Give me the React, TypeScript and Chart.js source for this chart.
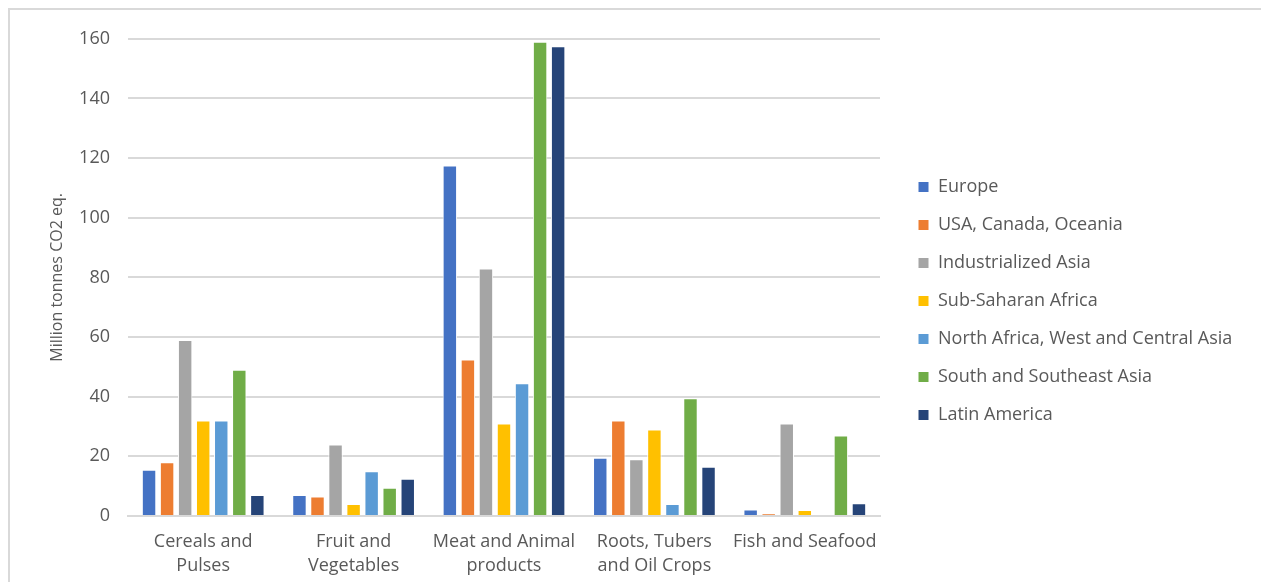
import React, { useEffect, useRef } from "react";
import { Chart, registerables } from "chart.js";

Chart.register(...registerables);

const categories: string[][] = [
  ["Cereals and", "Pulses"],
  ["Fruit and", "Vegetables"],
  ["Meat and Animal", "products"],
  ["Roots, Tubers", "and Oil Crops"],
  ["Fish and Seafood"],
];

const seriesNames = [
  "Europe",
  "USA, Canada, Oceania",
  "Industrialized Asia",
  "Sub-Saharan Africa",
  "North Africa, West and Central Asia",
  "South and Southeast Asia",
  "Latin America",
];

const europe = [15.5, 7, 117.5, 19.5, 2.2];
const usaCanadaOceania = [18, 6.5, 52.5, 32, 0.8];
const industrializedAsia = [59, 24, 83, 19, 31];
const subSaharanAfrica = [32, 4, 31, 29, 2];
const northAfricaWestCentralAsia = [32, 15, 44.5, 4, 0];
const southSoutheastAsia = [49, 9.5, 159, 39.5, 27];
const latinAmerica = [7, 12.5, 157.5, 16.5, 4.3];

const seriesValues = [
  europe,
  usaCanadaOceania,
  industrializedAsia,
  subSaharanAfrica,
  northAfricaWestCentralAsia,
  southSoutheastAsia,
  latinAmerica,
];

const colors = ["#4472C4", "#ED7D31", "#A5A5A5", "#FFC000", "#5B9BD5", "#70AD47", "#264478"];

const yTicks = [0, 20, 40, 60, 80, 100, 120, 140, 160];

const FONT = "'Open Sans', Lato, sans-serif";
const TEXT = "#595959";

const legendLayout = {
  id: "legendLayout",
  beforeLayout(chart: any) {
    const lg = chart.legend;
    if (lg && !lg._patchedFit) {
      const orig = lg.fit.bind(lg);
      lg.fit = function () {
        orig();
        this.width = 388;
      };
      lg._patchedFit = true;
    }
  },
  afterLayout(chart: any) {
    const lg = chart.legend;
    if (lg) {
      lg.left += 18;
      lg.top -= 8;
      lg.bottom -= 8;
    }
  },
};

export default function App() {
  const ref = useRef<HTMLCanvasElement>(null);
  useEffect(() => {
    if (!ref.current) return;
    const chart = new Chart(ref.current, {
      type: "bar",
      data: {
        labels: categories,
        datasets: seriesNames.map((name, i) => ({
          label: name,
          data: seriesValues[i],
          backgroundColor: colors[i],
          borderColor: "#ffffff",
          borderWidth: 1,
          categoryPercentage: 0.84,
          barPercentage: 0.8,
        })),
      },
      options: {
        animation: false,
        responsive: true,
        maintainAspectRatio: false,
        layout: { padding: { left: 34, top: 26, bottom: 0, right: 0 } },
        plugins: {
          tooltip: { enabled: false },
          legend: {
            position: "right",
            align: "center",
            labels: {
              boxWidth: 11,
              boxHeight: 11,
              padding: 20,
              color: TEXT,
              font: { family: FONT, size: 18 },
            },
          },
        },
        scales: {
          x: {
            grid: { display: false },
            border: { color: "#d9d9d9", width: 2 },
            ticks: {
              color: TEXT,
              font: { family: FONT, size: 18, lineHeight: 1.333 },
              padding: 6,
              maxRotation: 0,
              autoSkip: false,
            },
            afterFit(scale: any) {
              scale.height = 66;
            },
          },
          y: {
            min: 0,
            max: 160,
            afterBuildTicks(scale: any) {
              scale.ticks = yTicks.map((v) => ({ value: v }));
            },
            grid: { color: "#d9d9d9", lineWidth: 2, drawTicks: false },
            border: { display: false },
            ticks: {
              color: TEXT,
              font: { family: FONT, size: 18 },
              padding: 18,
            },
            title: {
              display: true,
              text: "Million tonnes CO2 eq.",
              color: TEXT,
              font: { family: FONT, size: 16 },
            },
            afterFit(scale: any) {
              scale.width = 84;
            },
          },
        },
      },
      plugins: [legendLayout],
    });
    return () => chart.destroy();
  }, []);
  return (
    <div
      style={{
        width: 1258,
        height: 572,
        borderTop: "2px solid #d9d9d9",
        borderLeft: "2px solid #d9d9d9",
        position: "relative",
        background: "#fff",
      }}
    >
      <canvas ref={ref} />
    </div>
  );
}
